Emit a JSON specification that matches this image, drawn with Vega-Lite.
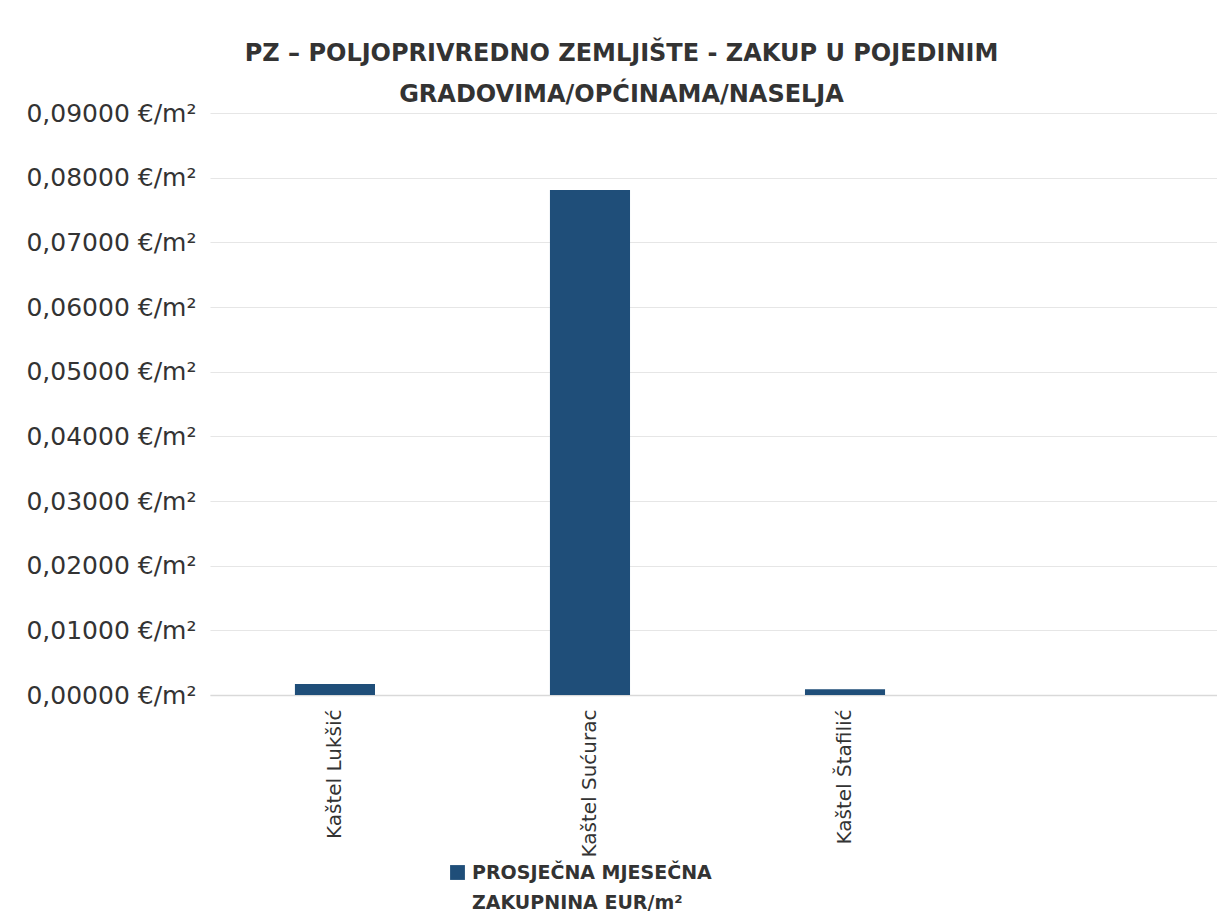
{
  "$schema": "https://vega.github.io/schema/vega-lite/v6.json",
  "width": 1015,
  "height": 582,
  "autosize": {"type": "none"},
  "padding": {"left": 210, "top": 113, "right": 0, "bottom": 227},
  "background": "white",
  "title": {
    "text": ["PZ – POLJOPRIVREDNO ZEMLJIŠTE - ZAKUP U POJEDINIM", "GRADOVIMA/OPĆINAMA/NASELJA"],
    "font": "DejaVu Sans",
    "fontWeight": "bold",
    "fontSize": 24,
    "lineHeight": 41,
    "color": "#333333",
    "anchor": "middle",
    "dx": -96,
    "offset": -6
  },
  "data": {
    "values": [
      {"naselje": "Kaštel Lukšić", "zakupnina": 0.0017, "serija": "PROSJEČNA MJESEČNA ZAKUPNINA EUR/m²"},
      {"naselje": "Kaštel Sućurac", "zakupnina": 0.0781, "serija": "PROSJEČNA MJESEČNA ZAKUPNINA EUR/m²"},
      {"naselje": "Kaštel Štafilić", "zakupnina": 0.0009, "serija": "PROSJEČNA MJESEČNA ZAKUPNINA EUR/m²"}
    ]
  },
  "mark": {"type": "bar"},
  "encoding": {
    "x": {
      "field": "naselje",
      "type": "nominal",
      "sort": null,
      "scale": {
        "domain": ["Kaštel Lukšić", "Kaštel Sućurac", "Kaštel Štafilić", " "],
        "paddingInner": 0.686,
        "paddingOuter": 0.333
      },
      "axis": {
        "title": null,
        "labelAngle": -90,
        "labelFont": "DejaVu Sans",
        "labelFontSize": 20,
        "labelColor": "#333333",
        "labelPadding": 14,
        "ticks": false,
        "domainColor": "#d9d9d9",
        "domainWidth": 1.5
      }
    },
    "y": {
      "field": "zakupnina",
      "type": "quantitative",
      "scale": {"domain": [0, 0.09], "nice": false},
      "axis": {
        "title": null,
        "values": [0, 0.01, 0.02, 0.03, 0.04, 0.05, 0.06, 0.07, 0.08, 0.09],
        "labelExpr": "replace(format(datum.value, '.5f'), '.', ',') + ' €/m²'",
        "labelFont": "DejaVu Sans",
        "labelFontSize": 25,
        "labelColor": "#333333",
        "labelPadding": 14,
        "ticks": false,
        "domain": false,
        "gridColor": "#e6e6e6",
        "gridWidth": 1.2
      }
    },
    "color": {
      "field": "serija",
      "type": "nominal",
      "scale": {"range": ["#1f4e79"]},
      "legend": {
        "title": null,
        "orient": "none",
        "legendX": 238,
        "legendY": 750,
        "symbolType": "square",
        "symbolSize": 220,
        "symbolStrokeWidth": 0,
        "symbolFillColor": "#2f5f8a",
        "labelFont": "DejaVu Sans",
        "labelFontSize": 19,
        "labelFontWeight": "bold",
        "labelColor": "#333333",
        "labelLimit": 500,
        "labelOffset": 5,
        "labelExpr": "['PROSJEČNA MJESEČNA', 'ZAKUPNINA EUR/m²']"
      }
    }
  },
  "config": {
    "view": {"stroke": null},
    "style": {"guide-label": {"lineHeight": 30}}
  }
}
